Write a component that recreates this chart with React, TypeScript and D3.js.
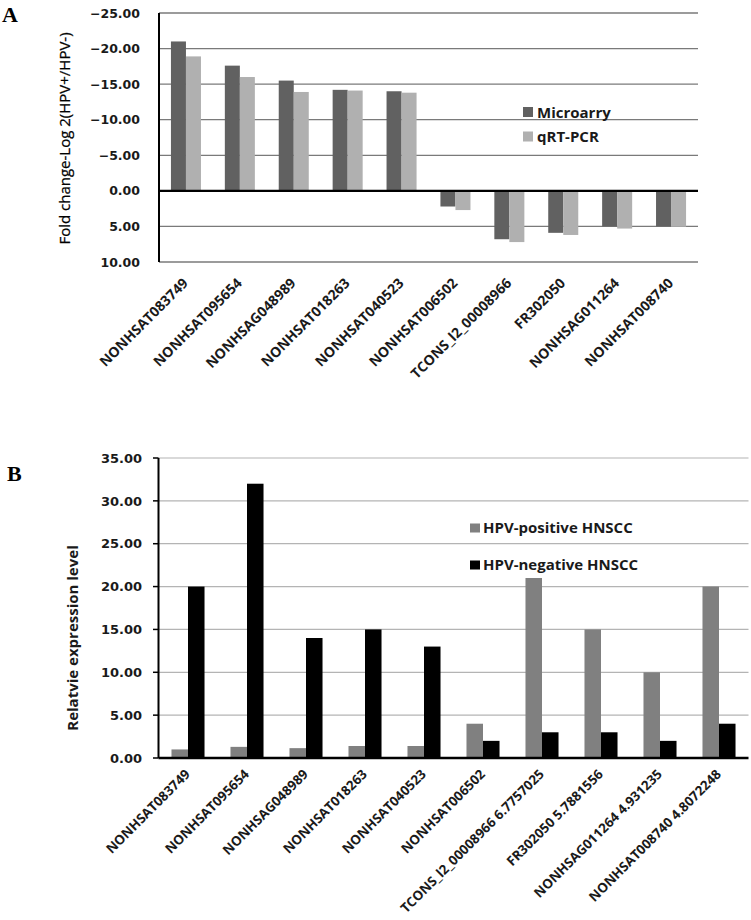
import React from 'react';
import * as d3 from 'd3';

const categoriesA = ['NONHSAT083749', 'NONHSAT095654', 'NONHSAG048989', 'NONHSAT018263', 'NONHSAT040523', 'NONHSAT006502', 'TCONS_l2_00008966', 'FR302050', 'NONHSAG011264', 'NONHSAT008740'];
const microarray = [-21.0, -17.6, -15.5, -14.2, -14.0, 2.2, 6.8, 5.9, 5.0, 5.0];
const qrtpcr = [-18.9, -16.0, -13.9, -14.1, -13.8, 2.7, 7.2, 6.2, 5.3, 5.05];
const ticksA = [-25, -20, -15, -10, -5, 0, 5, 10];
const seriesA = ['Microarry', 'qRT-PCR'];

const categoriesB = ['NONHSAT083749', 'NONHSAT095654', 'NONHSAG048989', 'NONHSAT018263', 'NONHSAT040523', 'NONHSAT006502', 'TCONS_l2_00008966 6.7757025', 'FR302050 5.7881556', 'NONHSAG011264 4.931235', 'NONHSAT008740 4.8072248'];
const hpvPositive = [1.0, 1.3, 1.15, 1.4, 1.4, 4.0, 21.0, 15.0, 10.0, 20.0];
const hpvNegative = [20.0, 32.0, 14.0, 15.0, 13.0, 2.0, 3.0, 3.0, 2.0, 4.0];
const ticksB = [0, 5, 10, 15, 20, 25, 30, 35];
const seriesB = ['HPV-positive HNSCC', 'HPV-negative HNSCC'];

const fmt = d3.format('.2f');
const LABEL_FONT = "'Open Sans', sans-serif";
const TICK_FONT = "'DejaVu Sans', Verdana, sans-serif";

export default function App() {
  // Panel A
  const xA = d3.scaleBand<string>().domain(categoriesA).range([159, 698]).paddingInner(0.443).paddingOuter(0.2215);
  const xAi = d3.scaleBand<string>().domain(seriesA).range([0, xA.bandwidth()]);
  const yA = d3.scaleLinear().domain([-25, 10]).range([13, 262]);
  const colorsA = ['#616161', '#b0b0b0'];
  const dataA = [microarray, qrtpcr];

  // Panel B
  const xB = d3.scaleBand<string>().domain(categoriesB).range([158.5, 748.5]).paddingInner(0.44).paddingOuter(0.22);
  const xBi = d3.scaleBand<string>().domain(seriesB).range([0, xB.bandwidth()]);
  const yB = d3.scaleLinear().domain([0, 35]).range([758, 458]);
  const colorsB = ['#808080', '#000000'];
  const dataB = [hpvPositive, hpvNegative];

  return (
    <svg width={751} height={920} style={{ position: 'absolute', left: 0, top: 0, background: '#fff' }}>
      <rect x={0} y={0} width={751} height={920} fill="#fff" />
      {/* ===== Panel A ===== */}
      <text x={2} y={22} fontFamily="'Liberation Serif', 'Times New Roman', serif" fontWeight="bold" fontSize={22}>A</text>
      {ticksA.map((t) => (
        <g key={'ga' + t}>
          {t !== 0 && (
            <line x1={159} x2={698} y1={yA(t)} y2={yA(t)} stroke="#7a7a7a" strokeWidth={1.3} />
          )}
          <text x={140} y={yA(t)} dy="0.36em" textAnchor="end" fontFamily={TICK_FONT} fontWeight="bold" fontSize={12.5} fill="#1a1a1a">{fmt(t)}</text>
        </g>
      ))}
      {dataA.map((vals, si) =>
        vals.map((v, i) => (
          <rect
            key={'ba' + si + '-' + i}
            x={(xA(categoriesA[i]) as number) + (xAi(seriesA[si]) as number)}
            y={yA(Math.min(0, v))}
            width={xAi.bandwidth()}
            height={Math.abs(yA(v) - yA(0))}
            fill={colorsA[si]}
          />
        ))
      )}
      <line x1={159} x2={698} y1={yA(0)} y2={yA(0)} stroke="#000" strokeWidth={2.2} />
      <line x1={159} x2={159} y1={yA(-25)} y2={yA(10)} stroke="#000" strokeWidth={2} />
      <text transform={`translate(65,${(yA(-25) + yA(10)) / 2 + 1}) rotate(-90)`} textAnchor="middle" dy="0.35em" fontFamily={LABEL_FONT} fontSize={15} fill="#000" stroke="#000" strokeWidth={0.25}>Fold  change-Log 2(HPV+/HPV-)</text>
      {categoriesA.map((c) => (
        <text key={'la' + c} transform={`translate(${(xA(c) as number) + xA.bandwidth() / 2 + 3},284) rotate(-45)`} textAnchor="end" fontFamily={LABEL_FONT} fontWeight="bold" fontSize={14} fill="#1a1a1a">{c}</text>
      ))}
      {seriesA.map((s, si) => (
        <g key={'lega' + s}>
          <rect x={523} y={107 + si * 24.5} width={10} height={10} fill={colorsA[si]} />
          <text x={537} y={117.5 + si * 24} fontFamily={LABEL_FONT} fontWeight="bold" fontSize={15} fill="#1a1a1a">{s}</text>
        </g>
      ))}

      {/* ===== Panel B ===== */}
      <text x={7} y={481} fontFamily="'Liberation Serif', 'Times New Roman', serif" fontWeight="bold" fontSize={22}>B</text>
      {ticksB.map((t) => (
        <g key={'gb' + t}>
          {t !== 0 && (
            <line x1={158.5} x2={748.5} y1={yB(t)} y2={yB(t)} stroke="#b4b4b4" strokeWidth={1.2} />
          )}
          <line x1={153} x2={158.5} y1={yB(t)} y2={yB(t)} stroke="#000" strokeWidth={1.5} />
          <text x={142} y={yB(t)} dy="0.36em" textAnchor="end" fontFamily={TICK_FONT} fontWeight="bold" fontSize={13} fill="#1a1a1a">{fmt(t)}</text>
        </g>
      ))}
      {dataB.map((vals, si) =>
        vals.map((v, i) => (
          <rect
            key={'bb' + si + '-' + i}
            x={(xB(categoriesB[i]) as number) + (xBi(seriesB[si]) as number)}
            y={yB(v)}
            width={xBi.bandwidth()}
            height={yB(0) - yB(v)}
            fill={colorsB[si]}
          />
        ))
      )}
      <line x1={158.5} x2={748.5} y1={yB(0)} y2={yB(0)} stroke="#000" strokeWidth={2.5} />
      <line x1={158.5} x2={158.5} y1={yB(35)} y2={yB(0)} stroke="#000" strokeWidth={2} />
      <text transform={`translate(73,${(yB(35) + yB(0)) / 2 + 30}) rotate(-90)`} textAnchor="middle" dy="0.35em" fontFamily={LABEL_FONT} fontWeight="bold" fontSize={15} fill="#1a1a1a">Relatvie expression level</text>
      {categoriesB.map((c) => (
        <text key={'lb' + c} transform={`translate(${(xB(c) as number) + xB.bandwidth() / 2 + 3},775) rotate(-45)`} textAnchor="end" fontFamily={LABEL_FONT} fontWeight="bold" fontSize={13.3} fill="#1a1a1a">{c}</text>
      ))}
      {seriesB.map((s, si) => (
        <g key={'legb' + s}>
          <rect x={470} y={523.5 + si * 37} width={10} height={9} fill={colorsB[si]} />
          <text x={483} y={532.5 + si * 37} fontFamily={LABEL_FONT} fontWeight="bold" fontSize={15} fill="#1a1a1a">{s}</text>
        </g>
      ))}
    </svg>
  );
}
